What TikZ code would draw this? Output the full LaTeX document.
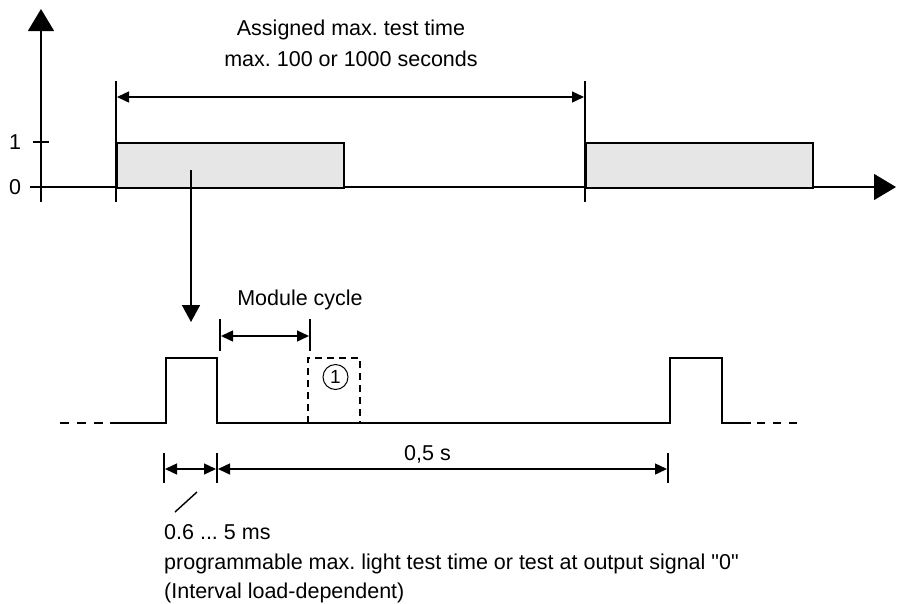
\documentclass[tikz,border=0pt]{standalone}
\usepackage{fontspec}
\setmainfont{Liberation Sans}[Ligatures=TeXOff]
\usetikzlibrary{arrows.meta}
\definecolor{boxgray}{RGB}{230,230,230}
\frenchspacing
\begin{document}
\begin{tikzpicture}[x=1pt,y=-1pt,
  lbl/.style={inner sep=0pt,font=\fontsize{21.5}{25}\selectfont},
  axisline/.style={line width=1.5pt},
  bigtip/.style={-{Triangle[length=22pt,width=26pt]}},
  tbox/.style={draw,line width=2.2pt,fill=boxgray},
  sig/.style={line width=2.5pt},
  sigdash/.style={line width=2.2pt,dash pattern=on 9pt off 8pt},
  dimline/.style={line width=1.4pt,{Triangle[length=12pt,width=11pt]}-{Triangle[length=12pt,width=11pt]}},
  thin/.style={line width=1.4pt},
]
\useasboundingbox (0,0) rectangle (907,603);
% axes
\coordinate (yb) at (41,202);
\coordinate (yt) at (41,9);
\coordinate (xl) at (30,187);
\coordinate (xr) at (896,187);
\draw[axisline,bigtip] (yb) -- (yt);
\draw[axisline,bigtip] (xl) -- (xr);
\coordinate (t1a) at (33,142);
\coordinate (t1b) at (49,142);
\draw[axisline] (t1a) -- (t1b);
\node[lbl] (one) at (15,142) {1};
\node[lbl] (zero) at (15,187) {0};
% boxes
\node[tbox,minimum width=227pt,minimum height=45pt,inner sep=0pt,anchor=north west] (b1) at (116,142) {};
\node[tbox,minimum width=227pt,minimum height=45pt,inner sep=0pt,anchor=north west] (b2) at (585,142) {};
% vertical markers
\coordinate (v1t) at (116,81); \coordinate (v1b) at (116,202);
\coordinate (v2t) at (585,81); \coordinate (v2b) at (585,202);
\draw[thin] (v1t) -- (v1b);
\draw[thin] (v2t) -- (v2b);
\coordinate (d1a) at (117,97); \coordinate (d1b) at (584,97);
\draw[dimline] (d1a) -- (d1b);
\node[lbl,anchor=base] (t1) at (351,35) {Assigned max. test time};
\node[lbl,anchor=base] (t2) at (351,66) {max. 100 or 1000 seconds};
% down arrow
\coordinate (da) at (191,170);
\coordinate (db) at (191,322);
\draw[line width=1.7pt,-{Triangle[length=17pt,width=18pt]}] (da) -- (db);
% lower signal
\coordinate (s0) at (60,423);
\coordinate (s1) at (104,423);
\coordinate (s2) at (110,423);
\coordinate (s3) at (751,423);
\coordinate (s4) at (757,423);
\coordinate (s5) at (802,423);
\draw[sigdash] (s0) -- (s1);
\draw[sig] (s2) -- (166,423) -- (166,358) -- (217,358) -- (217,423) -- (670,423) -- (670,358) -- (722,358) -- (722,423) -- (s3);
\draw[sigdash,dash pattern=on 8pt off 8pt] (s4) -- (s5);
% dashed pulse
\coordinate (p1) at (308,423);
\coordinate (p2) at (360,423);
\draw[line width=2pt,dash pattern=on 7pt off 5pt] (p1) -- (308,358) -- (360,358) -- (p2);
\node[draw,circle,line width=1pt,minimum size=25pt,inner sep=0pt,font=\fontsize{19}{22}\selectfont] (c1) at (335.5,377) {1};
% module cycle
\coordinate (m1t) at (220,319); \coordinate (m1b) at (220,351);
\coordinate (m2t) at (310,319); \coordinate (m2b) at (310,351);
\draw[thin] (m1t) -- (m1b);
\draw[thin] (m2t) -- (m2b);
\coordinate (mda) at (221,336); \coordinate (mdb) at (309,336);
\draw[dimline] (mda) -- (mdb);
\node[lbl,anchor=base] (mc) at (300,305) {Module cycle};
% bottom dimensions
\coordinate (k1t) at (164,453); \coordinate (k1b) at (164,483);
\coordinate (k2t) at (217,453); \coordinate (k2b) at (217,483);
\coordinate (k3t) at (668,453); \coordinate (k3b) at (668,483);
\draw[thin] (k1t) -- (k1b);
\draw[thin] (k2t) -- (k2b);
\draw[thin] (k3t) -- (k3b);
\coordinate (e1a) at (165,469); \coordinate (e1b) at (216,469);
\coordinate (e2a) at (218,469); \coordinate (e2b) at (667,469);
\draw[dimline] (e1a) -- (e1b);
\draw[dimline] (e2a) -- (e2b);
\node[lbl,anchor=base] (half) at (427.5,460) {0,5 s};
\coordinate (sl1) at (175,512); \coordinate (sl2) at (197,492);
\draw[thin] (sl1) -- (sl2);
\node[lbl,anchor=base west] (n1) at (164,539) {0.6 ... 5 ms};
\node[lbl,anchor=base west] (n2) at (164,569) {programmable max. light test time or test at output signal "0"};
\node[lbl,anchor=base west] (n3) at (164,598) {(Interval load-dependent)};
\end{tikzpicture}
\end{document}
